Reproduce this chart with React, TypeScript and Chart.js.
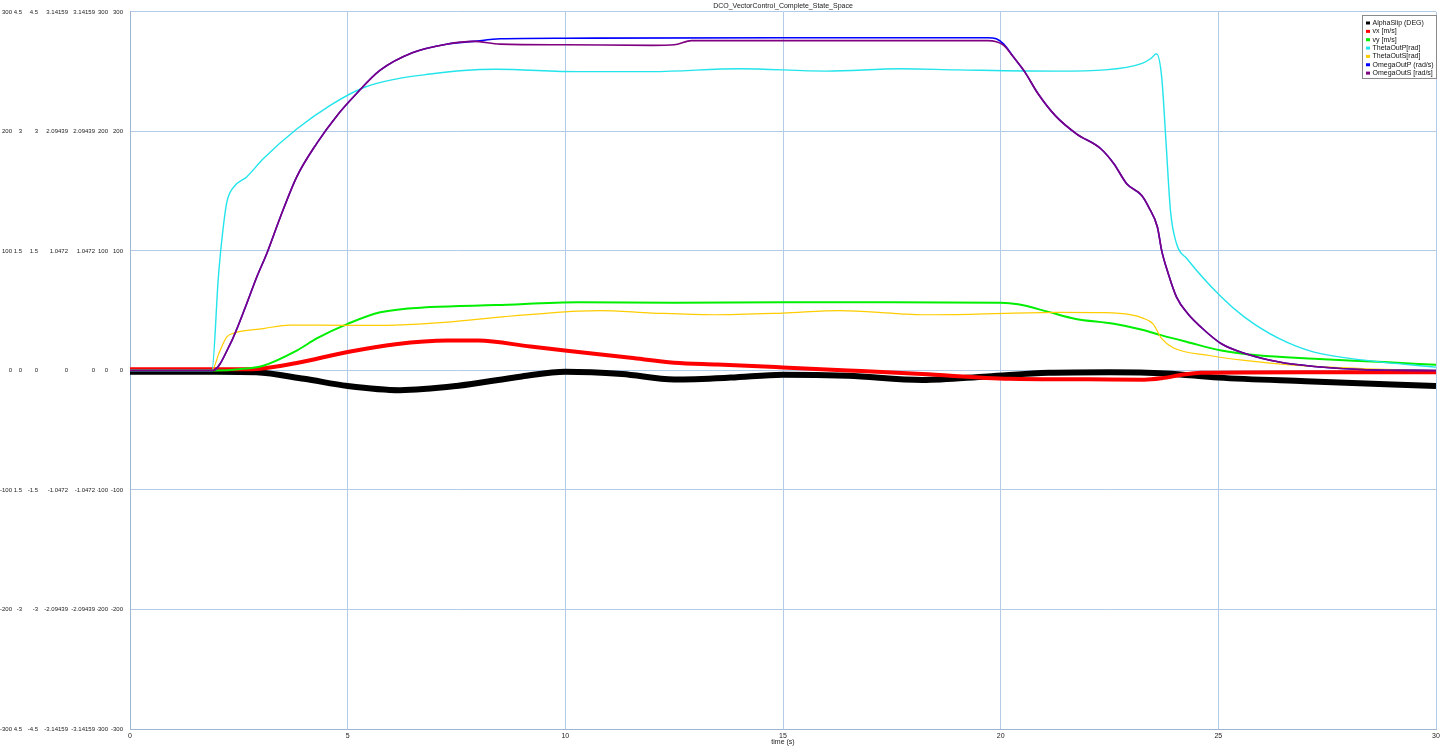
import React, { useEffect, useRef } from "react";
import { Chart, registerables } from "chart.js";

Chart.register(...registerables);

const chartTitle = "DCO_VectorControl_Complete_State_Space";
const xTitle = "time (s)";

// AlphaSlip (DEG)
const alphaT = [0, 2, 2.9, 4, 5, 6.2, 7.5, 9, 10, 11.3, 12.5, 13.8, 15, 16.5, 18.2, 19.7, 21.1, 22.5, 23.8, 25, 27, 30];
const alphaSlip = [-1, -1, -1.5, -7, -13, -16.5, -13, -5, -1, -3, -7.5, -6, -3.5, -4.5, -8, -5, -2, -1.5, -2.5, -6, -9, -13];

// vx [m/s]
const vxT = [0, 2.5, 3, 3.8, 5, 6.1, 7.3, 8, 9.2, 10.3, 11.5, 12.5, 13.5, 15, 16.5, 18.2, 20.2, 22, 23.3, 23.7, 24.2, 24.6, 27, 30];
const vx = [0.015, 0.015, 0.022, 0.09, 0.232, 0.33, 0.375, 0.375, 0.3, 0.232, 0.158, 0.098, 0.075, 0.038, 0, -0.045, -0.105, -0.112, -0.117, -0.098, -0.052, -0.03, -0.022, -0.022];

// vy [m/s]
const vyT = [0, 2, 2.5, 3.06, 3.83, 4.3, 5, 5.75, 6.9, 8.4, 10.3, 12.5, 15, 17.5, 20, 20.4, 21.1, 21.7, 22.6, 23.25, 23.7, 24.3, 25.07, 25.9, 27.2, 28.8, 30];
const vy = [0, 0, 0.015, 0.06, 0.25, 0.405, 0.585, 0.73, 0.795, 0.82, 0.855, 0.85, 0.855, 0.855, 0.85, 0.83, 0.735, 0.65, 0.585, 0.51, 0.44, 0.355, 0.25, 0.19, 0.147, 0.105, 0.07];

// ThetaOutP [rad]
const thetaPT = [0, 1.88, 2.03, 2.1, 2.22, 2.37, 2.68, 3.06, 3.83, 4.6, 5.36, 6.13, 6.9, 7.66, 8.4, 10.3, 12, 14, 16, 17.7, 19, 21.3, 22.4, 23.25, 23.45, 23.58, 23.7, 23.8, 23.9, 24.04, 24.28, 25.07, 25.6, 26.4, 27.2, 28.4, 30];
const thetaP = [0, 0, 0.817, 1.11, 1.466, 1.602, 1.696, 1.854, 2.115, 2.323, 2.477, 2.555, 2.597, 2.628, 2.639, 2.618, 2.618, 2.644, 2.623, 2.643, 2.634, 2.623, 2.634, 2.691, 2.733, 2.775, 2.566, 1.99, 1.403, 1.11, 0.979, 0.643, 0.467, 0.278, 0.16, 0.088, 0.029];

// ThetaOutS [rad]
const thetaST = [0, 1.88, 2.05, 2.22, 2.37, 3.06, 3.68, 5, 6.1, 7.3, 8.6, 10.3, 10.8, 12, 13.4, 15, 16.3, 17.7, 18.2, 19.3, 21.3, 22.4, 23.0, 23.25, 23.5, 23.7, 23.96, 24.8, 25.6, 26.8, 28.4, 29.5, 30];
const thetaS = [0, 0, 0.157, 0.292, 0.325, 0.367, 0.398, 0.395, 0.398, 0.423, 0.471, 0.519, 0.524, 0.503, 0.488, 0.503, 0.524, 0.496, 0.488, 0.492, 0.508, 0.506, 0.487, 0.461, 0.408, 0.278, 0.199, 0.131, 0.088, 0.044, 0.015, 0.003, 0];

// OmegaOutP (rad/s)
const omegaPT = [0, 1.9, 2.3, 2.68, 2.91, 3.14, 3.45, 3.83, 4.29, 4.75, 5.2, 5.74, 6.5, 7.27, 7.89, 8.5, 10, 15, 19.7, 19.9, 20.07, 20.3, 20.55, 20.86, 21.26, 21.74, 22.3, 22.6, 22.9, 23.24, 23.4, 23.6, 23.7, 23.85, 24.04, 24.3, 24.6, 25.07, 25.63, 26.4, 27.2, 28.4, 30];
const omegaP = [0, 0, 22, 55.8, 78, 97.6, 128, 162, 190, 213, 231.5, 251, 266, 273, 275.3, 277.5, 278, 278.4, 278.4, 277.5, 273, 262, 250, 231.5, 213, 198, 185.5, 173, 156, 146.4, 136.7, 120, 100, 81, 61.4, 47.4, 36.3, 22.3, 14, 7, 3.3, 0.6, 0];

// OmegaOutS [rad/s]
const omegaST = [0, 1.9, 2.3, 2.68, 2.91, 3.14, 3.45, 3.83, 4.29, 4.75, 5.2, 5.74, 6.5, 7.27, 7.89, 8.5, 10, 12, 12.5, 12.9, 15, 19.7, 19.9, 20.07, 20.3, 20.55, 20.86, 21.26, 21.74, 22.3, 22.6, 22.9, 23.24, 23.4, 23.6, 23.7, 23.85, 24.04, 24.3, 24.6, 25.07, 25.63, 26.4, 27.2, 28.4, 30];
const omegaS = [0, 0, 22, 55.8, 78, 97.6, 128, 162, 190, 213, 231.5, 251, 266, 273, 275.3, 273, 272.5, 272, 272.5, 276, 276, 276, 275, 272, 262, 250, 231.5, 213, 198, 185.5, 173, 156, 146.4, 136.7, 120, 100, 81, 61.4, 47.4, 36.3, 22.3, 14, 7, 3.3, 0.6, 0];

const seriesNames = ["AlphaSlip (DEG)", "vx [m/s]", "vy [m/s]", "ThetaOutP[rad]", "ThetaOutS[rad]", "OmegaOutP (rad/s)", "OmegaOutS [rad/s]"];
const seriesColors = ["#000000", "#ff0000", "#00ee00", "#22e4ea", "#ffcc00", "#0000ff", "#800080"];
const seriesWidths = [6, 4, 2, 1.4, 1.2, 1.6, 1.6];

// tick labels of the seven left axes
const degTicks = [-300, -200, -100, 0, 100, 200, 300];
const velTicks = [-4.5, -3, -1.5, 0, 1.5, 3, 4.5];
const radTicks = [-3.14159, -2.09439, -1.0472, 0, 1.0472, 2.09439, 3.14159];
const xTicks = [0, 5, 10, 15, 20, 25, 30];

const FONT = "'Liberation Sans', Arial, sans-serif";
const GRID = "#b3cbe6";

const legendBox = {
  id: "legendBox",
  afterDraw(chart: any) {
    const ctx = chart.ctx;
    const area = chart.chartArea;
    const w = 74;
    const h = 63;
    const x0 = Math.round(area.right - w) + 0.5;
    const y0 = Math.round(area.top + 3) + 0.5;
    ctx.save();
    ctx.fillStyle = "#ffffff";
    ctx.fillRect(x0, y0, w, h);
    ctx.strokeStyle = "#8a8a8a";
    ctx.lineWidth = 1;
    ctx.strokeRect(x0, y0, w, h);
    ctx.font = `7px ${FONT}`;
    ctx.textBaseline = "middle";
    ctx.textAlign = "left";
    seriesNames.forEach((name, i) => {
      const y = y0 + 7.5 + i * 8.35;
      ctx.fillStyle = seriesColors[i];
      ctx.fillRect(x0 + 3.5, y - 1.5, 4, 3);
      ctx.fillStyle = "#111111";
      ctx.fillText(name, x0 + 10, y);
    });
    // x axis title
    ctx.fillStyle = "#222222";
    ctx.textAlign = "center";
    ctx.fillText(xTitle, (area.left + area.right) / 2, area.bottom + 13);
    ctx.restore();
  },
};

function yAxis(ticksArr: number[], weight: number, width: number, pad: number, showGrid: boolean) {
  return {
    type: "linear",
    position: "left",
    weight,
    min: ticksArr[0],
    max: ticksArr[ticksArr.length - 1],
    afterBuildTicks: (axis: any) => {
      axis.ticks = ticksArr.map((v) => ({ value: v }));
    },
    afterFit: (axis: any) => {
      axis.width = width;
    },
    ticks: {
      padding: pad,
      color: "#222222",
      font: { family: FONT, size: 6 },
      callback: (v: any) => String(v),
    },
    grid: {
      display: showGrid,
      drawTicks: false,
      color: GRID,
      lineWidth: 1,
    },
    border: { display: showGrid, color: "#9fb6d2" },
  };
}

export default function App() {
  const ref = useRef<HTMLCanvasElement | null>(null);

  useEffect(() => {
    if (!ref.current) return;
    const make = (t: number[], v: number[]) => t.map((x, i) => ({ x, y: v[i] }));
    const dataArr = [
      make(alphaT, alphaSlip),
      make(vxT, vx),
      make(vyT, vy),
      make(thetaPT, thetaP),
      make(thetaST, thetaS),
      make(omegaPT, omegaP),
      make(omegaST, omegaS),
    ];
    const axisIds = ["yA", "yVx", "yVy", "yThP", "yThS", "yOmP", "yOmS"];
    const datasets = dataArr.map((d, i) => ({
      label: seriesNames[i],
      data: d,
      yAxisID: axisIds[i],
      borderColor: seriesColors[i],
      backgroundColor: seriesColors[i],
      borderWidth: seriesWidths[i],
      pointRadius: 0,
      fill: false,
      cubicInterpolationMode: "monotone",
      order: 7 - i,
    }));

    const chart = new Chart(ref.current, {
      type: "line",
      data: { datasets } as any,
      options: {
        animation: false,
        responsive: true,
        maintainAspectRatio: false,
        layout: { padding: { left: 0, right: 4, top: 1.5, bottom: 3 } },
        plugins: {
          legend: { display: false },
          tooltip: { enabled: false },
          title: {
            display: true,
            text: chartTitle,
            fullSize: false,
            color: "#222222",
            font: { family: FONT, size: 7, weight: "normal", lineHeight: 1.2 },
            padding: { top: 0, bottom: 2 },
          },
        },
        scales: {
          x: {
            type: "linear",
            min: 0,
            max: 30,
            afterBuildTicks: (axis: any) => {
              axis.ticks = xTicks.map((v) => ({ value: v }));
            },
            afterFit: (axis: any) => {
              axis.paddingRight = 0;
              axis.paddingLeft = 0;
            },
            ticks: {
              padding: 4,
              color: "#222222",
              font: { family: FONT, size: 7, lineHeight: 1 },
              maxRotation: 0,
            },
            grid: { color: GRID, drawTicks: false },
            border: { color: "#9fb6d2" },
            title: { display: false },
          },
          yA: yAxis(degTicks, 7, 14, 2, false),
          yVx: yAxis(velTicks, 6, 10, 2, false),
          yVy: yAxis(velTicks, 5, 16, 2, false),
          yThP: yAxis(radTicks, 4, 30, 2, false),
          yThS: yAxis(radTicks, 3, 27, 2, false),
          yOmP: yAxis(degTicks, 2, 13, 2, false),
          yOmS: yAxis(degTicks, 1, 20, 7, true),
        } as any,
      },
      plugins: [legendBox],
    });
    return () => chart.destroy();
  }, []);

  return (
    <div style={{ position: "fixed", left: 0, top: 0, width: 1440, height: 747, background: "#ffffff" }}>
      <canvas ref={ref} />
    </div>
  );
}
